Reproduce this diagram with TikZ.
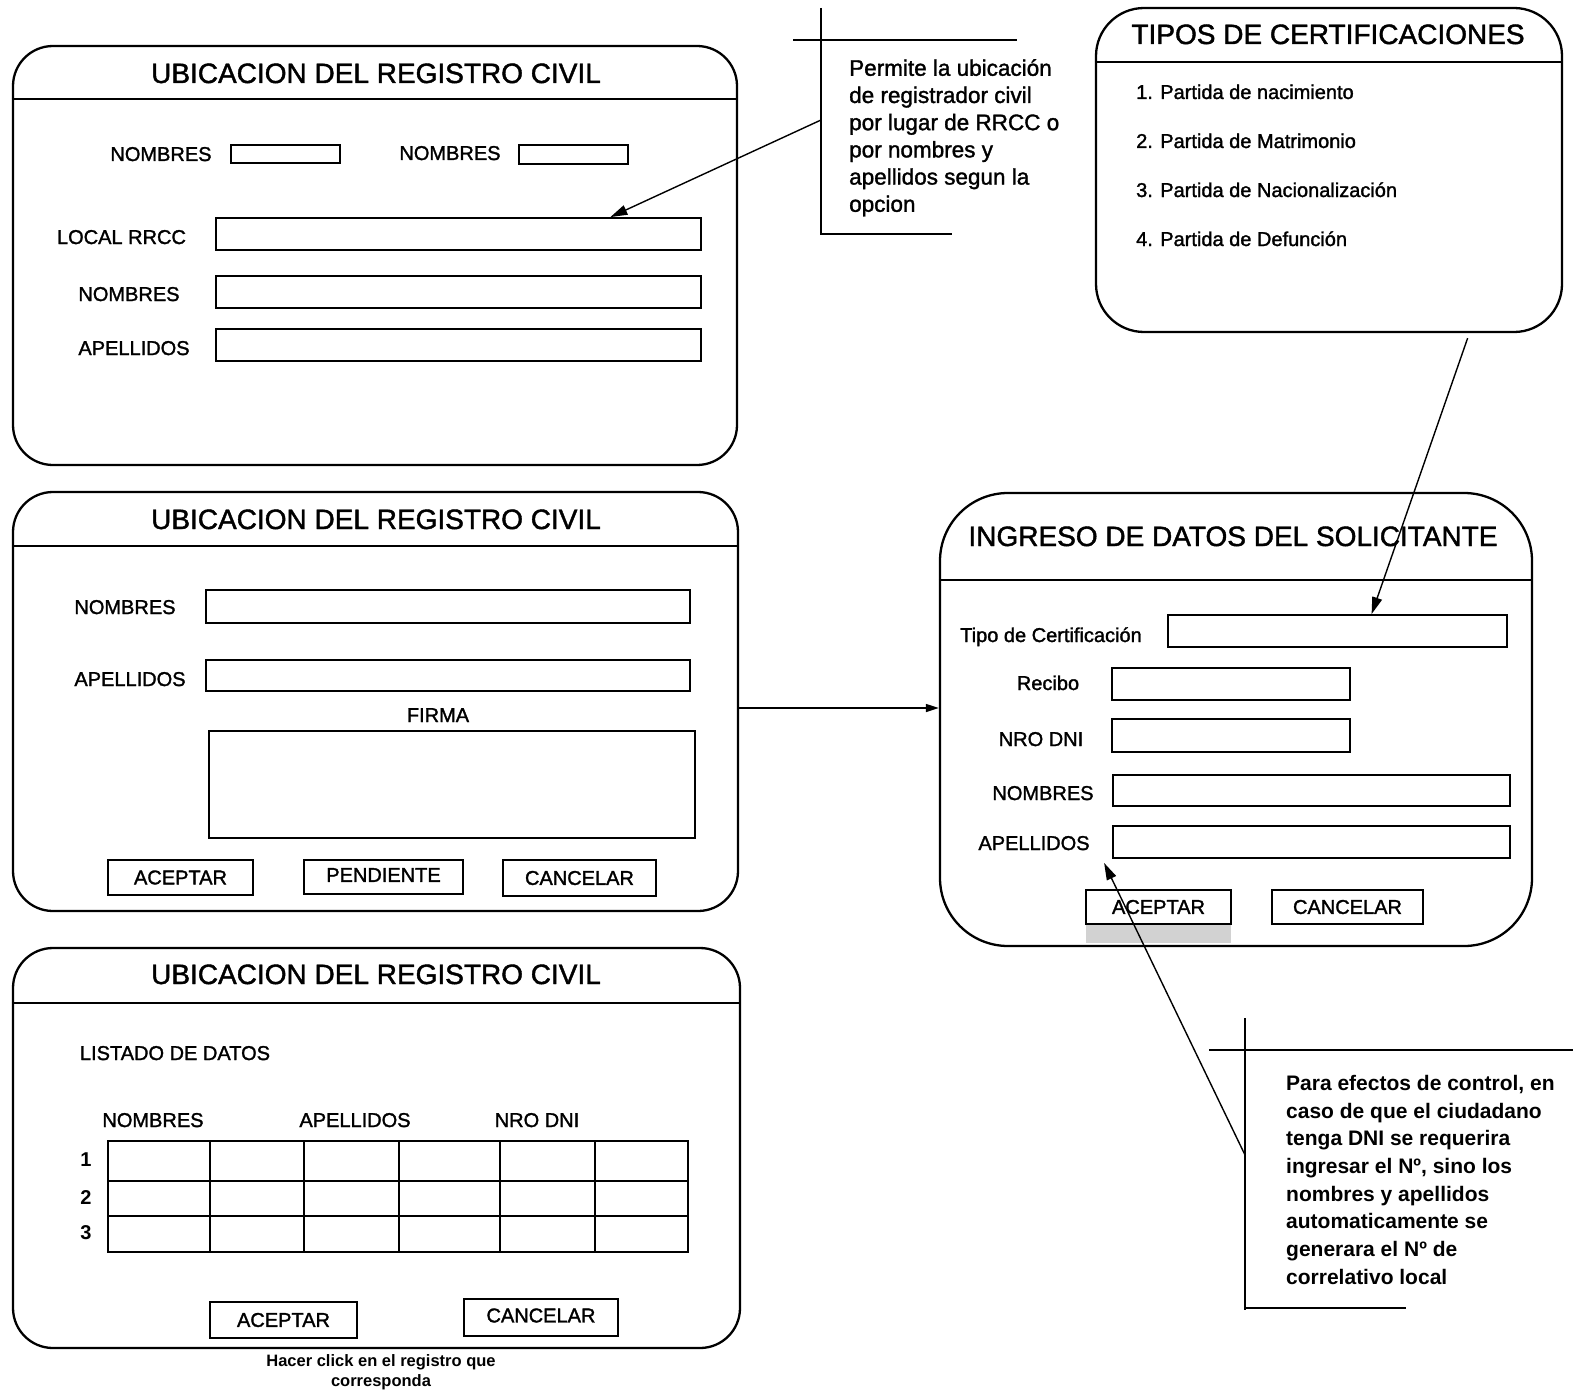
\documentclass[tikz,border=0pt]{standalone}
\usepackage{fontspec}
\setmainfont{Liberation Sans}[UprightFeatures={FakeBold=1.5}]
\usetikzlibrary{arrows.meta,calc,fit}

\begin{document}
\begin{tikzpicture}[x=1pt,y=-1pt,
  panel/.style={draw, line width=2.3pt, rounded corners=#1, inner sep=0pt},
  panel/.default=40pt,
  hdr/.style={line width=2pt},
  fld/.style={draw, line width=1.8pt, inner sep=0pt},
  btn/.style={draw, line width=2.2pt, inner sep=0pt},
  btxt/.style={font=\fontsize{20}{24}\selectfont, inner sep=0pt},
  lbl/.style={font=\fontsize{20}{24}\selectfont, inner sep=0pt, anchor=base},
  ttl/.style={font=\fontsize{28}{32}\selectfont, inner sep=0pt, anchor=base},
  con/.style={line width=1.4pt, -{Triangle[length=17pt,width=10pt]}},
  note/.style={line width=2pt},
]
\useasboundingbox (0,0) rectangle (1573,1391);
\fill[white] (0,0) rectangle (1573,1391);

% ---------- first search window ----------
\node[panel, fit={(13,46) (737,465)}] (p1) {};
\draw[hdr] (p1.west |- 0,99) -- (p1.east |- 0,99);
\node[ttl] (p1t) at (376,83) {UBICACION DEL REGISTRO CIVIL};
\node[lbl] (p1l1) at (161,161) {NOMBRES};
\node[fld, fit={(231,145) (340,163)}] (p1f1) {};
\node[lbl] (p1l2) at (450,160) {NOMBRES};
\node[fld, fit={(519,145) (628,164)}] (p1f2) {};
\node[lbl] (p1l3) at (121.5,244) {LOCAL RRCC};
\node[fld, fit={(216,218) (701,250)}] (loc) {};
\node[lbl] (p1l4) at (129,301) {NOMBRES};
\node[fld, fit={(216,276) (701,308)}] (p1nom) {};
\node[lbl] (p1l5) at (134,355) {APELLIDOS};
\node[fld, fit={(216,329) (701,361)}] (p1ape) {};

% ---------- second window (signature) ----------
\node[panel, fit={(13,492) (738,911)}] (p2) {};
\draw[hdr] (p2.west |- 0,546) -- (p2.east |- 0,546);
\node[ttl] (p2t) at (376,529) {UBICACION DEL REGISTRO CIVIL};
\node[lbl] (p2l1) at (125,614) {NOMBRES};
\node[fld, fit={(206,590) (690,623)}] (p2nom) {};
\node[lbl] (p2l2) at (130,686) {APELLIDOS};
\node[fld, fit={(206,660) (690,691)}] (p2ape) {};
\node[lbl] (p2l3) at (438,722) {FIRMA};
\node[fld, fit={(209,731) (695,838)}] (firma) {};
\node[btn, fit={(108,860) (253,895)}, label={[btxt]center:ACEPTAR}] (p2b1) {};
\node[btn, fit={(304,860) (463,894)}, label={[btxt, yshift=2pt]center:PENDIENTE}] (p2b2) {};
\node[btn, fit={(503,860) (656,896)}, label={[btxt]center:CANCELAR}] (p2b3) {};

% ---------- third window (list) ----------
\node[panel, fit={(13,948) (740,1348)}] (p3) {};
\draw[hdr] (p3.west |- 0,1003) -- (p3.east |- 0,1003);
\node[ttl] (p3t) at (376,984) {UBICACION DEL REGISTRO CIVIL};
\node[lbl] (p3l0) at (175,1060) {LISTADO DE DATOS};
\node[lbl] (p3h1) at (153,1127) {NOMBRES};
\node[lbl] (p3h2) at (355,1127) {APELLIDOS};
\node[lbl] (p3h3) at (537,1127) {NRO DNI};
\draw[line width=1.8pt] (108,1141) rectangle (688,1252);
\foreach \cx in {210,304,399,500,595}
  \draw[line width=1.8pt] (\cx,1141) -- (\cx,1252);
\foreach \ry in {1181,1216}
  \draw[line width=1.8pt] (108,\ry) -- (688,\ry);
\node[lbl, font=\fontsize{20}{24}\selectfont\bfseries] (r1) at (86,1166) {1};
\node[lbl, font=\fontsize{20}{24}\selectfont\bfseries] (r2) at (86,1204) {2};
\node[lbl, font=\fontsize{20}{24}\selectfont\bfseries] (r3) at (86,1239) {3};
\node[btn, fit={(210,1302) (357,1338)}, label={[btxt]center:ACEPTAR}] (p3b1) {};
\node[btn, fit={(464,1299) (618,1336)}, label={[btxt, yshift=2pt]center:CANCELAR}] (p3b2) {};
\node[font=\fontsize{16.5}{20}\selectfont\bfseries, align=center, inner sep=0pt, anchor=north]
  (cap) at (381,1354) {Hacer click en el registro que\\corresponda};

% ---------- certificate types ----------
\node[panel=48pt, fit={(1096,8) (1562,332)}] (tp) {};
\draw[hdr] (tp.west |- 0,62) -- (tp.east |- 0,62);
\node[ttl] (tpt) at (1328,44) {TIPOS DE CERTIFICACIONES};
\node[lbl, anchor=base west] (tp1) at (1136,99) {1. Partida de nacimiento};
\node[lbl, anchor=base west] (tp2) at (1136,148) {2. Partida de Matrimonio};
\node[lbl, anchor=base west] (tp3) at (1136,197) {3. Partida de Nacionalización};
\node[lbl, anchor=base west] (tp4) at (1136,246) {4. Partida de Defunción};

% ---------- applicant data ----------
\node[panel=68pt, fit={(940,493) (1532,946)}] (ing) {};
\draw[hdr] (ing.west |- 0,580) -- (ing.east |- 0,580);
\node[ttl] (ingt) at (1233,546) {INGRESO DE DATOS DEL SOLICITANTE};
\node[lbl] (il1) at (1051,642) {Tipo de Certificación};
\node[fld, fit={(1168,615) (1507,647)}] (tcert) {};
\node[lbl] (il2) at (1048,690) {Recibo};
\node[fld, fit={(1112,668) (1350,700)}] (recibo) {};
\node[lbl] (il3) at (1041,746) {NRO DNI};
\node[fld, fit={(1112,719) (1350,752)}] (dni) {};
\node[lbl] (il4) at (1043,800) {NOMBRES};
\node[fld, fit={(1113,775) (1510,806)}] (inom) {};
\node[lbl] (il5) at (1034,850) {APELLIDOS};
\node[fld, fit={(1113,826) (1510,858)}] (iape) {};
\fill[gray!35] (1086,924) rectangle (1231,943);
\node[btn, fit={(1086,890) (1231,924)}, label={[btxt]center:ACEPTAR}] (ib1) {};
\node[btn, fit={(1272,890) (1423,924)}, label={[btxt]center:CANCELAR}] (ib2) {};

% ---------- note on search options ----------
\draw[note] (821,8) -- (821,235);
\draw[line width=1.5pt] (793,40) -- (1017,40);
\draw[note] (821,234) -- (952,234);
\node[font=\fontsize{22.5}{27.2}\selectfont, align=left, inner sep=0pt, anchor=north west]
  (n1t) at (849,59) {Permite la ubicación\\de registrador civil\\por lugar de RRCC o\\por nombres y\\apellidos segun la\\opcion};
\coordinate (n1) at (821,120);

% ---------- note on control ----------
\draw[note] (1245,1018) -- (1245,1310);
\draw[line width=1.5pt] (1209,1050) -- (1573,1050);
\draw[note] (1245,1308) -- (1406,1308);
\node[font=\fontsize{21}{27.7}\selectfont\bfseries, align=left, inner sep=0pt, anchor=north west]
  (n2t) at (1286,1075) {Para efectos de control, en\\caso de que el ciudadano\\tenga DNI se requerira\\ingresar el Nº, sino los\\nombres y apellidos\\automaticamente se\\generara el Nº de\\correlativo local};
\coordinate (n2) at (1245,1155);

% ---------- connectors ----------
\draw[con] (n1) -- ($(loc.north west)!0.812!(loc.north east)$);
\draw[con] ($(tp.south west)!0.796!(tp.south east)+(0,5)$) -- ($(tcert.north west)!0.60!(tcert.north east)$);
\draw[line width=1.4pt, -{Triangle[length=13pt,width=8pt]}] (p2.east |- 0,708) -- (ing.west |- 0,708);
\draw[con] (n2) -- ($(iape.south west)+(-8,4)$);
\end{tikzpicture}
\end{document}
